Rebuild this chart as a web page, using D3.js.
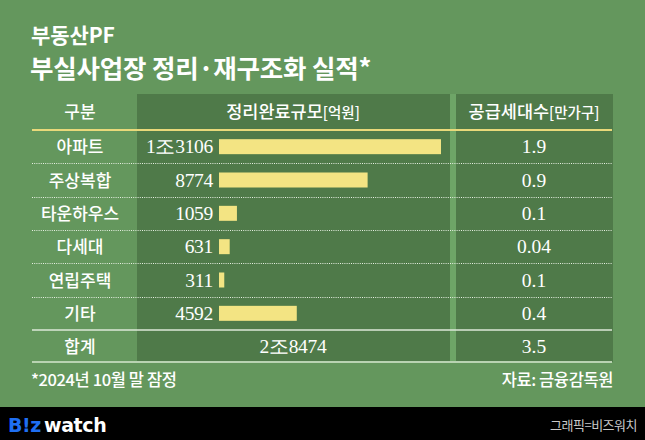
<!DOCTYPE html>
<html><head><meta charset="utf-8">
<script src="https://cdn.jsdelivr.net/npm/d3@7"></script>
<style>
html,body{margin:0;padding:0;background:#64975d;}
svg{display:block;}
</style></head>
<body>
<svg id="chart" width="645" height="440"></svg>
<script>
const categories = ["아파트","주상복합","타운하우스","다세대","연립주택","기타"];
const amounts = [13106, 8774, 1059, 631, 311, 4592];
const amountLabels = ["1조3106","8774","1059","631","311","4592"];
const households = ["1.9","0.9","0.1","0.04","0.1","0.4"];
const totalAmountLabel = "2조8474";
const totalHouseholds = "3.5";

(function(){
const svg = d3.select("#chart");
const W = 645, H = 440;
const KR = "'Noto Sans CJK KR','Noto Sans',sans-serif";
const SERIF = "'Liberation Serif','DejaVu Serif',serif";

svg.append("rect").attr("width",W).attr("height",H).attr("fill","#64975d");

// Title
svg.append("text").attr("x",31).attr("y",43).attr("fill","#fff")
  .attr("font-family",KR).attr("font-weight",700).attr("font-size",21)
  .attr("letter-spacing",-0.1).text("부동산PF");
svg.append("text").attr("x",30).attr("y",78).attr("fill","#fff")
  .attr("font-family",KR).attr("font-weight",700).attr("font-size",25.5)
  .attr("letter-spacing",-0.2).text("부실사업장 정리·재구조화 실적*");

// Table geometry
const tableLeft = 32, tableRight = 613;
const midL = 137, midR = 450, rightL = 456, rightR = 613;
const tTop = 94, headerBottom = 130, rowsBottom = 330, totalBottom = 362;

// Panels
svg.append("rect").attr("x",midL).attr("y",tTop).attr("width",midR-midL).attr("height",totalBottom-tTop).attr("fill","#4f7a49");
svg.append("rect").attr("x",midR).attr("y",tTop).attr("width",rightL-midR).attr("height",totalBottom-tTop).attr("fill","#6ea567");
svg.append("rect").attr("x",rightL).attr("y",tTop).attr("width",rightR-rightL).attr("height",totalBottom-tTop).attr("fill","#4f7a49");

// Header
const headY = 118;
svg.append("text").attr("x",80).attr("y",headY).attr("text-anchor","middle").attr("fill","#fff")
  .attr("font-family",KR).attr("font-size",17).attr("font-weight",500).text("구분");
const h2 = svg.append("text").attr("x",293).attr("y",headY).attr("text-anchor","middle").attr("fill","#fff")
  .attr("font-family",KR).attr("font-size",17.5).attr("font-weight",500);
h2.append("tspan").text("정리완료규모");
h2.append("tspan").attr("font-size",14.5).text("[억원]");
const h3 = svg.append("text").attr("x",534).attr("y",headY).attr("text-anchor","middle").attr("fill","#fff")
  .attr("font-family",KR).attr("font-size",17.5).attr("font-weight",500);
h3.append("tspan").text("공급세대수");
h3.append("tspan").attr("font-size",14.5).text("[만가구]");

// gold line
svg.append("line").attr("x1",tableLeft).attr("x2",tableRight-1).attr("y1",headerBottom).attr("y2",headerBottom)
  .attr("stroke","#e9d97a").attr("stroke-width",2);

// Scales
const y = d3.scaleBand().domain(categories).range([headerBottom, rowsBottom]).paddingInner(0).paddingOuter(0);
const x = d3.scaleLinear().domain([0, d3.max(amounts)]).range([219, 441]);

// dotted separators (between rows)
svg.append("g").selectAll("line").data(categories.slice(1)).join("line")
  .attr("x1",tableLeft).attr("x2",tableRight-1)
  .attr("y1",d=>Math.round(y(d))+0.5).attr("y2",d=>Math.round(y(d))+0.5)
  .attr("stroke","#e8f0e4").attr("stroke-width",1).attr("stroke-dasharray","1,1.2");

// bars
svg.append("g").selectAll("rect").data(categories).join("rect")
  .attr("x",x(0)).attr("y",d=>y(d)+y.bandwidth()/2-7.5)
  .attr("width",(d,i)=>x(amounts[i])-x(0)).attr("height",15)
  .attr("fill","#f3e483");

// labels
svg.append("g").selectAll("text").data(categories).join("text")
  .attr("x",80).attr("y",d=>y(d)+y.bandwidth()/2+6.5).attr("text-anchor","middle")
  .attr("fill","#fff").attr("font-family",KR).attr("font-size",17).attr("font-weight",500)
  .text(d=>d);

// amount labels
svg.append("g").selectAll("text").data(categories).join("text")
  .attr("x",213).attr("y",d=>y(d)+y.bandwidth()/2+6.5).attr("text-anchor","end")
  .attr("fill","#fff").attr("font-family",SERIF).attr("font-size",19.5).attr("letter-spacing",-0.3)
  .text((d,i)=>amountLabels[i]);

// households
svg.append("g").selectAll("text").data(categories).join("text")
  .attr("x",534).attr("y",d=>y(d)+y.bandwidth()/2+6.5).attr("text-anchor","middle")
  .attr("fill","#fff").attr("font-family",SERIF).attr("font-size",19.5)
  .text((d,i)=>households[i]);

// total lines
svg.append("line").attr("x1",tableLeft).attr("x2",tableRight-1).attr("y1",rowsBottom).attr("y2",rowsBottom)
  .attr("stroke","#dde9d8").attr("stroke-width",1.5);
svg.append("line").attr("x1",tableLeft).attr("x2",tableRight-1).attr("y1",totalBottom).attr("y2",totalBottom)
  .attr("stroke","#b9d3b2").attr("stroke-width",2);

const totY = (rowsBottom+totalBottom)/2 + 6.5;
svg.append("text").attr("x",80).attr("y",totY).attr("text-anchor","middle").attr("fill","#fff")
  .attr("font-family",KR).attr("font-size",17).attr("font-weight",500).text("합계");
svg.append("text").attr("x",293).attr("y",totY).attr("text-anchor","middle").attr("fill","#fff")
  .attr("font-family",SERIF).attr("font-size",19.5).attr("letter-spacing",-0.3).text(totalAmountLabel);
svg.append("text").attr("x",534).attr("y",totY).attr("text-anchor","middle").attr("fill","#fff")
  .attr("font-family",SERIF).attr("font-size",19.5).text(totalHouseholds);

// footnotes
svg.append("text").attr("x",31).attr("y",386).attr("fill","#fff")
  .attr("font-family",KR).attr("font-size",16.5).attr("font-weight",500).attr("letter-spacing",-0.4)
  .text("*2024년 10월 말 잠정");
svg.append("text").attr("x",613).attr("y",386).attr("text-anchor","end").attr("fill","#fff")
  .attr("font-family",KR).attr("font-size",16.5).attr("font-weight",500).attr("letter-spacing",-0.4)
  .text("자료: 금융감독원");

// bottom bar
svg.append("rect").attr("x",0).attr("y",407).attr("width",W).attr("height",H-407).attr("fill","#000");
const logo = svg.append("text").attr("x",8).attr("y",432).attr("font-family","'DejaVu Sans','Noto Sans',sans-serif")
  .attr("font-weight",700).attr("font-size",19).attr("letter-spacing",-0.4);
logo.append("tspan").attr("fill","#1f6ff2").text("B!z");
logo.append("tspan").attr("fill","#fff").attr("dx",3).text("watch");
svg.append("text").attr("x",637).attr("y",430).attr("text-anchor","end").attr("fill","#c8c8c8")
  .attr("font-family",KR).attr("font-size",13).attr("letter-spacing",-0.5).text("그래픽=비즈워치");
})();
</script>
</body></html>
